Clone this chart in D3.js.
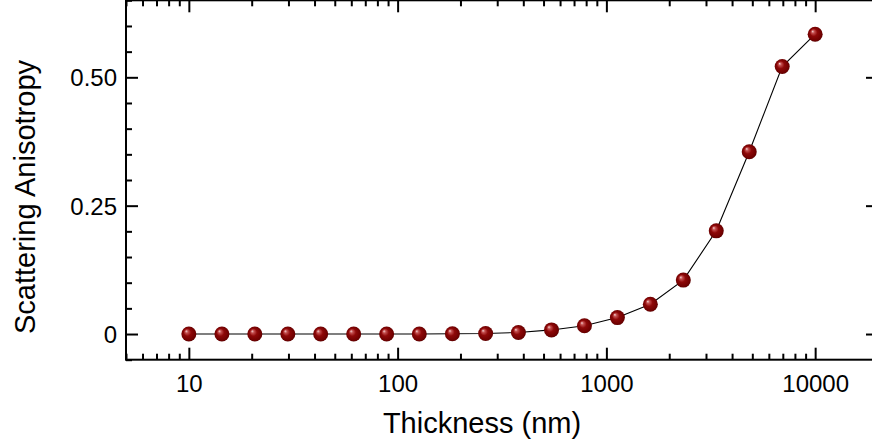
<!DOCTYPE html>
<html>
<head>
<meta charset="utf-8">
<script src="https://cdn.jsdelivr.net/npm/d3@7"></script>
<style>
  html, body { margin: 0; padding: 0; background: #fff; }
  svg { display: block; }
  text { font-family: "Liberation Sans", Arial, sans-serif; fill: #000; }
</style>
</head>
<body>
<svg id="chart" width="872" height="444"></svg>
<script>
// Film thickness (nm) and the scattering anisotropy measured at each
const thickness = [10, 14.4, 20.7, 29.8, 42.8, 61.6, 88.6, 127, 183, 264,
                   379, 546, 785, 1129, 1624, 2336, 3360, 4833, 6952, 10000];
const anisotropy = [0, 0, 0, 0, 0, 0, 0, 0, 0.0005, 0.001,
                    0.003, 0.008, 0.016, 0.032, 0.058, 0.105, 0.201, 0.355, 0.521, 0.584];

const xMajorTicks = [10, 100, 1000, 10000];
const xTickLabels = ["10", "100", "1000", "10000"];
const yMajorTicks = [0, 0.25, 0.5];
const yTickLabels = ["0", "0.25", "0.50"];
const yMinorTicks = [-0.05, 0.05, 0.1, 0.15, 0.2, 0.3, 0.35, 0.4, 0.45, 0.55, 0.6, 0.65];

const xTitle = "Thickness (nm)";
const yTitle = "Scattering Anisotropy";

const svg = d3.select("#chart");
const plotL = 126, plotR = 878, plotT = 0.3, plotB = 359.7;

const x = d3.scaleLog().domain([5, 20000]).range([plotL, plotR]);
const y = d3.scaleLinear().domain([-0.05, 0.65]).range([plotB, plotT]);

// minor log ticks: 2..9 within each decade
const xMinorTicks = x.ticks().filter(v => !xMajorTicks.includes(v));

const defs = svg.append("defs");
const grad = defs.append("radialGradient")
  .attr("id", "ball")
  .attr("cx", "50%").attr("cy", "50%").attr("r", "55%")
  .attr("fx", "32%").attr("fy", "30%");
grad.append("stop").attr("offset", "0%").attr("stop-color", "#f4d6d6");
grad.append("stop").attr("offset", "18%").attr("stop-color", "#c45050");
grad.append("stop").attr("offset", "45%").attr("stop-color", "#8e0808");
grad.append("stop").attr("offset", "85%").attr("stop-color", "#6e0000");
grad.append("stop").attr("offset", "100%").attr("stop-color", "#4a0000");

function styleTicks(sel) {
  sel.select(".domain").remove();
  sel.selectAll(".tick line").attr("stroke", "#000").attr("stroke-width", 2);
}

// bottom axis: ticks pointing inward (up)
const xBottom = svg.append("g").attr("transform", `translate(0,${plotB})`)
  .call(d3.axisBottom(x).tickValues(xMajorTicks).tickSize(-12)
        .tickFormat((d, i) => xTickLabels[i]))
  .call(styleTicks);
xBottom.selectAll(".tick text").attr("y", 0).attr("dy", "32px")
  .attr("font-size", "24px").attr("font-family", "Liberation Sans, Arial, sans-serif");
svg.append("g").attr("transform", `translate(0,${plotB})`)
  .call(d3.axisBottom(x).tickValues(xMinorTicks).tickSize(-6).tickFormat(""))
  .call(styleTicks);

// top axis: ticks pointing inward (down)
svg.append("g").attr("transform", `translate(0,${plotT})`)
  .call(d3.axisTop(x).tickValues(xMajorTicks).tickSize(-12).tickFormat(""))
  .call(styleTicks);
svg.append("g").attr("transform", `translate(0,${plotT})`)
  .call(d3.axisTop(x).tickValues(xMinorTicks).tickSize(-6).tickFormat(""))
  .call(styleTicks);

// left axis with labels
const yLeft = svg.append("g").attr("transform", `translate(${plotL},0)`)
  .call(d3.axisLeft(y).tickValues(yMajorTicks).tickSize(-12)
        .tickFormat((d, i) => yTickLabels[i]))
  .call(styleTicks);
yLeft.selectAll(".tick text").attr("x", -9).attr("dy", "0.36em")
  .attr("font-size", "24px").attr("font-family", "Liberation Sans, Arial, sans-serif");
svg.append("g").attr("transform", `translate(${plotL},0)`)
  .call(d3.axisLeft(y).tickValues(yMinorTicks).tickSize(-6).tickFormat(""))
  .call(styleTicks);

// right axis
svg.append("g").attr("transform", `translate(${plotR},0)`)
  .call(d3.axisRight(y).tickValues(yMajorTicks).tickSize(-12).tickFormat(""))
  .call(styleTicks);
svg.append("g").attr("transform", `translate(${plotR},0)`)
  .call(d3.axisRight(y).tickValues(yMinorTicks).tickSize(-6).tickFormat(""))
  .call(styleTicks);

// plot frame
svg.append("rect")
  .attr("x", plotL).attr("y", plotT)
  .attr("width", plotR - plotL).attr("height", plotB - plotT)
  .attr("fill", "none").attr("stroke", "#000").attr("stroke-width", 2);

// connecting line
const pts = thickness.map((t, i) => [t, anisotropy[i]]);
svg.append("path")
  .datum(pts)
  .attr("fill", "none")
  .attr("stroke", "#000")
  .attr("stroke-width", 1.1)
  .attr("d", d3.line().x(d => x(d[0])).y(d => y(d[1])));

// markers
svg.append("g").selectAll("circle")
  .data(pts)
  .join("circle")
  .attr("cx", d => x(d[0]))
  .attr("cy", d => y(d[1]))
  .attr("r", 7.5)
  .attr("fill", "url(#ball)");

// axis titles
svg.append("text")
  .attr("x", 482).attr("y", 433)
  .attr("text-anchor", "middle")
  .attr("font-size", "29px")
  .text(xTitle);

svg.append("text")
  .attr("transform", "translate(35,197) rotate(-90)")
  .attr("text-anchor", "middle")
  .attr("font-size", "29px")
  .text(yTitle);
</script>
</body>
</html>
